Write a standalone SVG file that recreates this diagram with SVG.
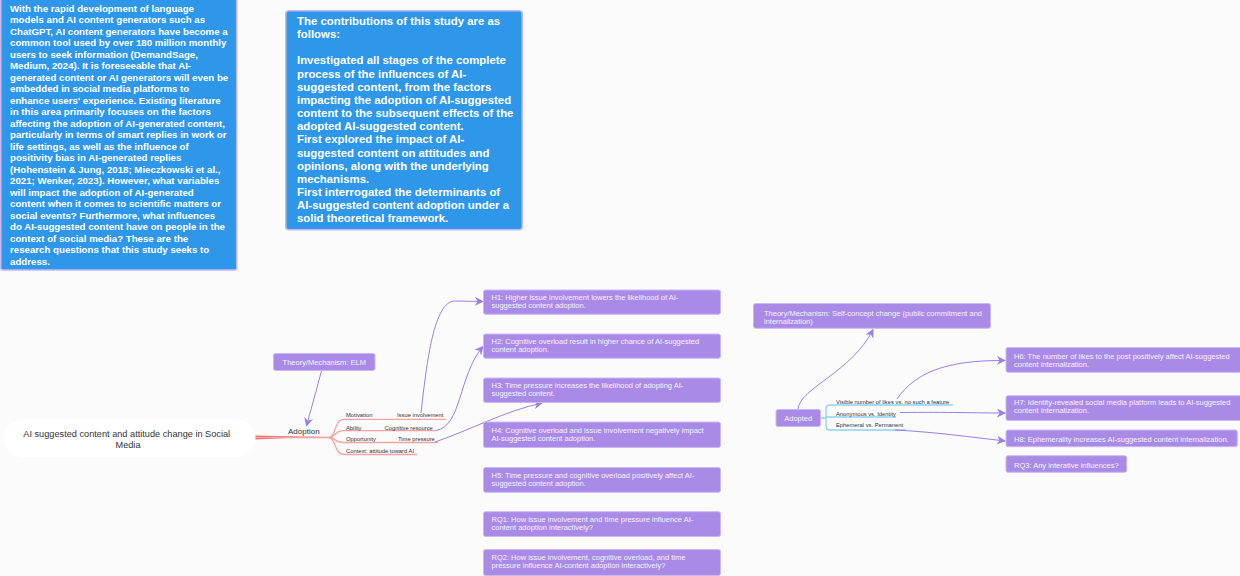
<svg xmlns="http://www.w3.org/2000/svg" width="1240" height="576" viewBox="0 0 1240 576">
<defs>
<style>
.bg{fill:#fbfbfb}
.blue{fill:#2f97e9;stroke:#c6b8f2;stroke-width:1.5}
.bt{font-family:"Liberation Sans",Arial,sans-serif;font-weight:bold;fill:#ffffff}
.pbox{fill:#a98be7;stroke:#c8b8f4;stroke-width:1}
.pt{font-family:"Liberation Sans",Arial,sans-serif;font-size:7.5px;fill:#f6f2fe}
.lbl{font-family:"Liberation Sans",Arial,sans-serif;font-size:5.8px;fill:#333333}
.red{fill:none;stroke:#f4a3a3;stroke-width:1.3}
.bl{fill:none;stroke:#8fd0f5;stroke-width:1.3}
.pc{fill:none;stroke:#9b7fe8;stroke-width:1}
</style>
<marker id="arr" viewBox="0 0 10 10" refX="9" refY="5" markerWidth="9" markerHeight="9" markerUnits="userSpaceOnUse" orient="auto">
<path d="M0,0 L10,5 L0,10 L3,5 Z" fill="#9b7fe8"/>
</marker>
</defs>
<rect class="bg" x="0" y="0" width="1240" height="576"/>

<g id="intro">
<rect class="blue" x="0.75" y="-2" width="236" height="272" rx="2"/>
<text class="bt" font-size="9.7" x="10">
<tspan x="10" y="11.5">With the rapid development of language</tspan>
<tspan x="10" y="23">models and AI content generators such as</tspan>
<tspan x="10" y="34.5">ChatGPT, AI content generators have become a</tspan>
<tspan x="10" y="46">common tool used by over 180 million monthly</tspan>
<tspan x="10" y="57.5">users to seek information (DemandSage,</tspan>
<tspan x="10" y="69">Medium, 2024). It is foreseeable that AI-</tspan>
<tspan x="10" y="80.5">generated content or AI generators will even be</tspan>
<tspan x="10" y="92">embedded in social media platforms to</tspan>
<tspan x="10" y="103.5">enhance users' experience. Existing literature</tspan>
<tspan x="10" y="115">in this area primarily focuses on the factors</tspan>
<tspan x="10" y="126.5">affecting the adoption of AI-generated content,</tspan>
<tspan x="10" y="138">particularly in terms of smart replies in work or</tspan>
<tspan x="10" y="149.5">life settings, as well as the influence of</tspan>
<tspan x="10" y="161">positivity bias in AI-generated replies</tspan>
<tspan x="10" y="172.5">(Hohenstein &amp; Jung, 2018; Mieczkowski et al.,</tspan>
<tspan x="10" y="184">2021; Wenker, 2023). However, what variables</tspan>
<tspan x="10" y="195.5">will impact the adoption of AI-generated</tspan>
<tspan x="10" y="207">content when it comes to scientific matters or</tspan>
<tspan x="10" y="218.5">social events? Furthermore, what influences</tspan>
<tspan x="10" y="230">do AI-suggested content have on people in the</tspan>
<tspan x="10" y="241.5">context of social media? These are the</tspan>
<tspan x="10" y="253">research questions that this study seeks to</tspan>
<tspan x="10" y="264.5">address.</tspan>
</text>
</g>

<g id="contributions">
<rect class="blue" x="285.75" y="10.75" width="236.5" height="219" rx="3"/>
<text class="bt" font-size="11.4">
<tspan x="297" y="25">The contributions of this study are as</tspan>
<tspan x="297" y="38.15">follows:</tspan>
<tspan x="297" y="64.45">Investigated all stages of the complete</tspan>
<tspan x="297" y="77.6">process of the influences of AI-</tspan>
<tspan x="297" y="90.75">suggested content, from the factors</tspan>
<tspan x="297" y="103.9">impacting the adoption of AI-suggested</tspan>
<tspan x="297" y="117.05">content to the subsequent effects of the</tspan>
<tspan x="297" y="130.2">adopted AI-suggested content.</tspan>
<tspan x="297" y="143.35">First explored the impact of AI-</tspan>
<tspan x="297" y="156.5">suggested content on attitudes and</tspan>
<tspan x="297" y="169.65">opinions, along with the underlying</tspan>
<tspan x="297" y="182.8">mechanisms.</tspan>
<tspan x="297" y="195.95">First interrogated the determinants of</tspan>
<tspan x="297" y="209.1">AI-suggested content adoption under a</tspan>
<tspan x="297" y="222.25">solid theoretical framework.</tspan>
</text>
</g>

<g id="connectors">
<path d="M255,435.6 L300,436.6 L330,437 L300,437.6 L255,439.6 Z" fill="#ee6a6a"/>
<path class="red" d="M255,437.5 L330,437.5"/>
<path class="red" d="M329,437.5 C336,437.5 334,419.3 344,419.3 L446,419.3"/>
<path class="red" d="M329,437.5 C336,437.5 334,430.7 344,430.7 L436,430.7"/>
<path class="red" d="M329,437.5 C336,437.5 334,442.5 344,442.5 L438,442.5"/>
<path class="red" d="M329,437.5 C336,437.5 334,454.5 344,454.5 L417,454.5"/>
<path class="pc" marker-end="url(#arr)" d="M321.5,371 L306.5,426"/>
<path class="pc" marker-end="url(#arr)" d="M421,413 C427,360 434,301 455,301 L483,301.5"/>
<path class="pc" marker-end="url(#arr)" d="M436,430.5 C462,426 458,376 483,346.5"/>
<path class="pc" marker-end="url(#arr)" d="M435,442 C470,430 505,411 542,403"/>
<path class="pc" marker-end="url(#arr)" d="M798,409 C800,388 852,372 873,329.5"/>
<path class="bl" d="M820.5,418 L826,418 M826,418 L826,409 Q826,405 830,405 L953,405 M826,418 L826,426 Q826,430 830,430 L906,430 M826,417 L896,417"/>
<path class="pc" marker-end="url(#arr)" d="M897,399 C915,373 945,360 1005,360.5"/>
<path class="pc" marker-end="url(#arr)" d="M900,412.5 C950,412 975,413 1005,413"/>
<path class="pc" marker-end="url(#arr)" d="M895,430 C935,432 970,437 1005,441"/>
</g>

<g id="root">
<rect x="3.5" y="419.5" width="252" height="37.5" rx="18.75" fill="#ffffff"/>
<text font-family="'Liberation Sans',Arial,sans-serif" font-size="9.2" fill="#333333" text-anchor="middle">
<tspan x="128" y="437">AI suggested content and attitude change in Social</tspan>
<tspan x="128" y="447.5">Media</tspan>
</text>
</g>

<g id="adoption">
<text font-family="'Liberation Sans',Arial,sans-serif" font-size="8" fill="#333333" x="288" y="434">Adoption</text>
</g>

<g id="branches-adoption">
<text class="lbl" x="346" y="417">Motivation</text>
<text class="lbl" x="397" y="417">Issue involvement</text>
<text class="lbl" x="346" y="429.5">Ability</text>
<text class="lbl" x="384.5" y="429.5">Cognitive resource</text>
<text class="lbl" x="346" y="440.8">Opportunity</text>
<text class="lbl" x="398" y="440.8">Time pressure</text>
<text class="lbl" x="346" y="452.8">Context: attitude toward AI</text>
</g>

<g id="elm">
<rect class="pbox" x="273.5" y="353.5" width="101.5" height="17" rx="2"/>
<text class="pt" x="324.25" y="364.8" text-anchor="middle">Theory/Mechanism: ELM</text>
</g>

<g id="h1">
<rect class="pbox" x="483.5" y="290" width="237" height="24.3" rx="2"/>
<text class="pt"><tspan x="491.5" y="299.8">H1: Higher issue involvement lowers the likelihood of AI-</tspan><tspan x="491.5" y="307.6">suggested content adoption.</tspan></text>
</g>
<g id="h2">
<rect class="pbox" x="483.5" y="334" width="237" height="24.3" rx="2"/>
<text class="pt"><tspan x="491.5" y="343.8">H2: Cognitive overload result in higher chance of AI-suggested</tspan><tspan x="491.5" y="351.6">content adoption.</tspan></text>
</g>
<g id="h3">
<rect class="pbox" x="483.5" y="378" width="237" height="24.5" rx="2"/>
<text class="pt"><tspan x="491.5" y="388">H3: Time pressure increases the likelihood of adopting AI-</tspan><tspan x="491.5" y="395.8">suggested content.</tspan></text>
</g>
<g id="h4">
<rect class="pbox" x="483.5" y="422" width="237" height="25.5" rx="2"/>
<text class="pt"><tspan x="491.5" y="433">H4: Cognitive overload and issue involvement negatively impact</tspan><tspan x="491.5" y="440.8">AI-suggested content adoption.</tspan></text>
</g>
<g id="h5">
<rect class="pbox" x="483.5" y="467.5" width="237" height="24.8" rx="2"/>
<text class="pt"><tspan x="491.5" y="477.8">H5: Time pressure and cognitive overload positively affect AI-</tspan><tspan x="491.5" y="485.6">suggested content adoption.</tspan></text>
</g>
<g id="rq1">
<rect class="pbox" x="483.5" y="511.7" width="237" height="24.8" rx="2"/>
<text class="pt"><tspan x="491.5" y="522">RQ1: How issue involvement and time pressure influence AI-</tspan><tspan x="491.5" y="529.8">content adoption interactively?</tspan></text>
</g>
<g id="rq2">
<rect class="pbox" x="483.5" y="549.5" width="237" height="26" rx="2"/>
<text class="pt"><tspan x="491.5" y="560">RQ2: How issue involvement, cognitive overload, and time</tspan><tspan x="491.5" y="567.8">pressure influence AI-content adoption interactively?</tspan></text>
</g>

<g id="selfconcept">
<rect class="pbox" x="753.5" y="303.5" width="237" height="24.8" rx="2"/>
<text class="pt"><tspan x="764" y="315.8">Theory/Mechanism: Self-concept change (public commitment and</tspan><tspan x="764" y="324">internalization)</tspan></text>
</g>

<g id="adopted">
<rect class="pbox" x="776" y="409.5" width="44.5" height="17" rx="2"/>
<text class="pt" x="798.25" y="420.8" text-anchor="middle">Adopted</text>
</g>

<g id="branches-adopted">
<text class="lbl" x="836" y="403.5">Visible number of likes vs. no such a feature</text>
<text class="lbl" x="836" y="415.5">Anonymous vs. Identity</text>
<text class="lbl" x="836" y="426.6">Ephemeral vs. Permanent</text>
</g>

<g id="h6">
<rect class="pbox" x="1006" y="347.5" width="235" height="24.8" rx="2"/>
<text class="pt"><tspan x="1014" y="359.2">H6: The number of likes to the post positively affect AI-suggested</tspan><tspan x="1014" y="367.4">content internalization.</tspan></text>
</g>
<g id="h7">
<rect class="pbox" x="1006" y="395.7" width="235" height="24.8" rx="2"/>
<text class="pt"><tspan x="1014" y="405.2">H7: Identity-revealed social media platform leads to AI-suggested</tspan><tspan x="1014" y="413.4">content internalization.</tspan></text>
</g>
<g id="h8">
<rect class="pbox" x="1006" y="430" width="231.3" height="16.7" rx="2"/>
<text class="pt" x="1014" y="441.5">H8: Ephemerality increases AI-suggested content internalization.</text>
</g>
<g id="rq3">
<rect class="pbox" x="1006" y="455.7" width="120.7" height="16.6" rx="2"/>
<text class="pt" x="1014" y="467.5">RQ3: Any interative influences?</text>
</g>
</svg>
